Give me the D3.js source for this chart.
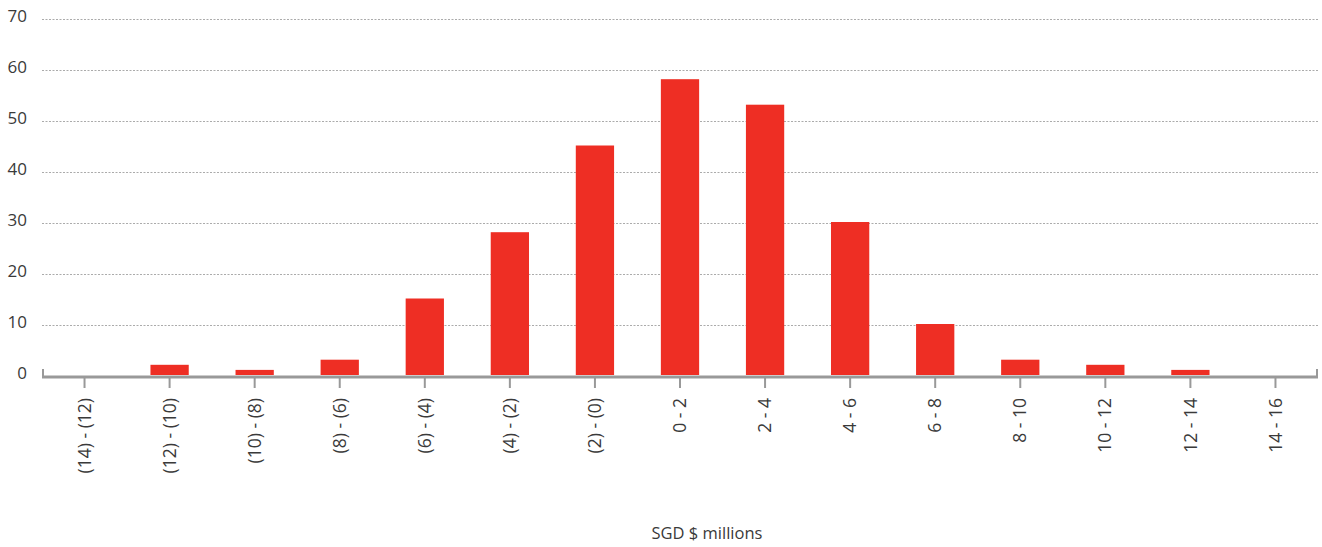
<!DOCTYPE html>
<html>
<head>
<meta charset="utf-8">
<script src="https://cdn.jsdelivr.net/npm/d3@7"></script>
<style>
  body { margin: 0; background: #fff; }
  svg { display: block; font-family: "Open Sans", "Noto Sans", sans-serif; }
</style>
</head>
<body>
<div class="chart"></div>
<script>
var categories = ["(14) - (12)", "(12) - (10)", "(10) - (8)", "(8) - (6)", "(6) - (4)", "(4) - (2)",
                  "(2) - (0)", "0 - 2", "2 - 4", "4 - 6", "6 - 8", "8 - 10", "10 - 12", "12 - 14", "14 - 16"];
var counts = [0, 2, 1, 3, 15, 28, 45, 58, 53, 30, 10, 3, 2, 1, 0];
var yTicks = [0, 10, 20, 30, 40, 50, 60, 70];
var xTitle = "SGD $ millions";

var width = 1322, height = 547;
var plotLeft = 42, plotRight = 1318, plotTop = 19, zeroY = 376;

var svg = d3.select(".chart").append("svg")
  .attr("width", width)
  .attr("height", height);

var x = d3.scaleBand().domain(categories).range([plotLeft, plotRight]).paddingInner(0.55).paddingOuter(0.275);
var xc = d3.scaleBand().domain(categories).range([plotLeft, plotRight]);
var y = d3.scaleLinear().domain([0, 70]).range([zeroY, plotTop]);

// gridlines
svg.append("g").selectAll("line")
  .data(yTicks.filter(function(d) { return d > 0; }))
  .enter().append("line")
  .attr("x1", plotLeft).attr("x2", plotRight)
  .attr("y1", function(d) { return y(d) + 0.5; })
  .attr("y2", function(d) { return y(d) + 0.5; })
  .attr("stroke", "#ababab")
  .attr("stroke-width", 1)
  .attr("stroke-dasharray", "2,1.5");

// y labels
svg.append("g").selectAll("text")
  .data(yTicks)
  .enter().append("text")
  .attr("x", 27)
  .attr("y", function(d) { return y(d); })
  .attr("dy", "0.2em")
  .attr("text-anchor", "end")
  .attr("font-size", 17)
  .attr("fill", "#3a3a3a")
  .text(function(d) { return d; });

// bars
svg.append("g").selectAll("rect")
  .data(counts)
  .enter().append("rect")
  .attr("x", function(d, i) { return x(categories[i]); })
  .attr("width", x.bandwidth())
  .attr("y", function(d) { return y(d) - 1; })
  .attr("height", function(d) { return zeroY - y(d); })
  .attr("fill", "#ee2e24");

// x axis line and ticks
var axis = svg.append("g").attr("stroke", "#999");
axis.append("line")
  .attr("x1", plotLeft).attr("x2", plotRight)
  .attr("y1", zeroY + 1).attr("y2", zeroY + 1)
  .attr("stroke-width", 3);
axis.append("line")
  .attr("x1", plotLeft + 1).attr("x2", plotLeft + 1)
  .attr("y1", zeroY - 7).attr("y2", zeroY + 1)
  .attr("stroke-width", 2);
axis.append("line")
  .attr("x1", plotRight - 1).attr("x2", plotRight - 1)
  .attr("y1", zeroY - 7).attr("y2", zeroY + 1)
  .attr("stroke-width", 2);
axis.selectAll(".tick")
  .data(categories)
  .enter().append("line")
  .attr("x1", function(d) { return xc(d) + xc.bandwidth() / 2; })
  .attr("x2", function(d) { return xc(d) + xc.bandwidth() / 2; })
  .attr("y1", zeroY + 1).attr("y2", zeroY + 12)
  .attr("stroke-width", 2);

// x labels
svg.append("g").selectAll("text")
  .data(categories)
  .enter().append("text")
  .attr("transform", function(d) {
    return "translate(" + (xc(d) + xc.bandwidth() / 2) + "," + 398 + ") rotate(-90)";
  })
  .attr("dy", "0.35em")
  .attr("text-anchor", "end")
  .attr("font-size", 17.5)
  .attr("fill", "#3a3a3a")
  .text(function(d) { return d; });

svg.append("text")
  .attr("x", 707)
  .attr("y", 539)
  .attr("text-anchor", "middle")
  .attr("font-size", 16.5)
  .attr("fill", "#3a3a3a")
  .text(xTitle);
</script>
</body>
</html>
